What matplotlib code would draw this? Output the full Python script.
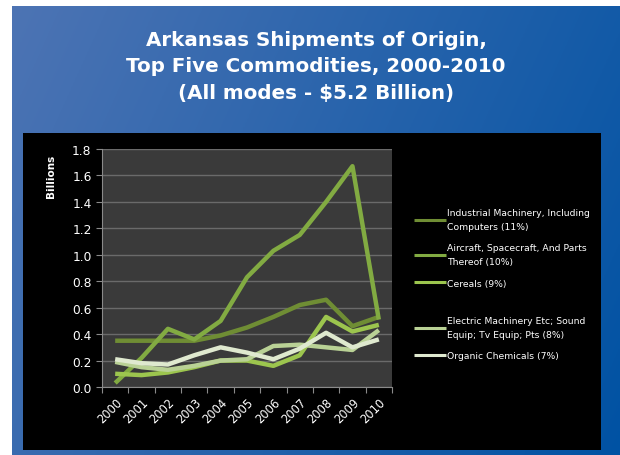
import matplotlib.pyplot as plt
import numpy as np
from matplotlib.patches import Rectangle

# Values (billions of dollars)
years = ["2000", "2001", "2002", "2003", "2004", "2005",
         "2006", "2007", "2008", "2009", "2010"]
industrial = [0.35, 0.35, 0.35, 0.35, 0.39, 0.45, 0.53, 0.62, 0.66, 0.46, 0.53]
aircraft = [0.03, 0.22, 0.44, 0.36, 0.50, 0.83, 1.03, 1.15, 1.40, 1.67, 0.51]
cereals = [0.10, 0.09, 0.11, 0.15, 0.20, 0.20, 0.16, 0.24, 0.53, 0.42, 0.47]
electric = [0.19, 0.15, 0.13, 0.16, 0.20, 0.21, 0.31, 0.32, 0.30, 0.28, 0.43]
organic = [0.21, 0.18, 0.17, 0.24, 0.30, 0.26, 0.21, 0.29, 0.41, 0.30, 0.36]

labels = [
    "Industrial Machinery, Including\nComputers (11%)",
    "Aircraft, Spacecraft, And Parts\nThereof (10%)",
    "Cereals (9%)",
    "Electric Machinery Etc; Sound\nEquip; Tv Equip; Pts (8%)",
    "Organic Chemicals (7%)",
]
colors = ["#6f8d34", "#82ab42", "#9cc54e", "#b9d195", "#dfe9cf"]
series = [industrial, aircraft, cereals, electric, organic]

W, H = 620, 456
fig = plt.figure(figsize=(6.2, 4.56), dpi=100)
fig.patch.set_facecolor("white")

# blue slide background with a soft left-to-right gradient
bg = fig.add_axes([12 / W, 0, 1 - 12 / W, 1 - 7 / H])
gx = np.linspace(0, 1, 300)
gy = np.linspace(0, 1, 200)
GX, GY = np.meshgrid(gx, gy)
t = np.clip(0.75 * GX + 0.25 * GY, 0, 1)
c0 = np.array([0x4d, 0x74, 0xb4]) / 255
c1 = np.array([0x00, 0x52, 0xa3]) / 255
img = c0[None, None, :] * (1 - t[..., None]) + c1[None, None, :] * t[..., None]
bg.imshow(img, aspect="auto", extent=[0, 1, 0, 1], origin="upper")
bg.set_axis_off()

# black chart box
fig.add_artist(Rectangle((23 / W, 5 / H), 578 / W, 317 / H,
                         transform=fig.transFigure, facecolor="black",
                         edgecolor="none", zorder=1))

fig.text(316 / W, 1 - 67 / H,
         "Arkansas Shipments of Origin,\nTop Five Commodities, 2000-2010\n(All modes - $5.2 Billion)",
         ha="center", va="center", color="white", fontsize=14.3,
         fontweight="bold", linespacing=1.48)

ax = fig.add_axes([102 / W, (H - 388) / H, 290 / W, 238 / H], zorder=2)
ax.set_facecolor("#3a3a3a")
x = np.arange(len(years))
lines = []
for vals, col, lab in zip(series, colors, labels):
    ln, = ax.plot(x, vals, color=col, linewidth=3.2, label=lab,
                  solid_capstyle="butt")
    lines.append(ln)

ax.set_xlim(-0.5, len(years) - 0.5)
ax.set_ylim(0, 1.8)
ax.set_yticks(np.arange(0, 1.81, 0.2))
ax.set_yticklabels([f"{v:.1f}" for v in np.arange(0, 1.81, 0.2)])
ax.grid(axis="y", color="#6a6a6a", linewidth=1)
ax.set_axisbelow(True)
ax.set_xticks(np.arange(-0.5, len(years)), minor=False)
ax.set_xticklabels([])
ax.set_xticks(x, minor=True)
ax.set_xticklabels(years, minor=True, rotation=45, ha="right",
                   rotation_mode="anchor", color="white", fontsize=8.3)
ax.tick_params(axis="x", which="minor", length=0, pad=6)
ax.tick_params(axis="x", which="major", length=4, color="#8a8a8a")
ax.tick_params(axis="y", colors="white", labelsize=8.8, length=4, color="#8a8a8a")
for s in ["top", "right"]:
    ax.spines[s].set_visible(False)
ax.spines["left"].set_color("#8a8a8a")
ax.spines["bottom"].set_color("#8a8a8a")

fig.text(51 / W, 1 - 176 / H, "Billions", rotation=90, ha="center",
         va="center", color="white", fontsize=7.5, fontweight="bold", zorder=3)


def make_legend(handles, top):
    leg = ax.legend(handles=handles, loc="upper left",
                    bbox_to_anchor=(406 / W, 1 - top / H),
                    bbox_transform=fig.transFigure, frameon=False,
                    fontsize=6.7, labelcolor="white", handlelength=3.4,
                    handletextpad=0.15, labelspacing=1.35)
    for txt in leg.get_texts():
        txt.set_linespacing(1.65)
    for line in leg.get_lines():
        line.set_linewidth(2.2)
    return leg


leg1 = make_legend(lines[:3], 201)
ax.add_artist(leg1)
make_legend(lines[3:], 309)

fig.savefig("out.png", dpi=100)
